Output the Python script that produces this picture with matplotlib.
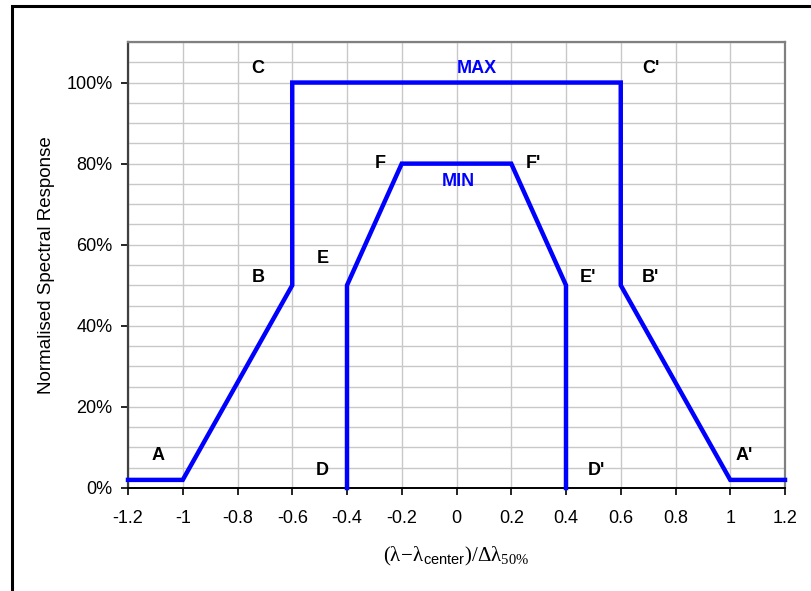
import matplotlib
matplotlib.use("Agg")
import matplotlib.pyplot as plt
import matplotlib.patches as mpatches
import numpy as np

plt.rcParams['font.family'] = ['Liberation Sans', 'DejaVu Sans']
plt.rcParams['mathtext.fontset'] = 'custom'
plt.rcParams['mathtext.rm'] = 'Liberation Serif'
plt.rcParams['mathtext.it'] = 'Liberation Serif:italic'
plt.rcParams['mathtext.sf'] = 'Liberation Sans'

# outer mask (MAX) and inner mask (MIN)
max_x = [-1.2, -1.0, -0.6, -0.6, 0.6, 0.6, 1.0, 1.2]
max_y = [0.02, 0.02, 0.50, 1.00, 1.00, 0.50, 0.02, 0.02]
min_x = [-0.4, -0.4, -0.2, 0.2, 0.4, 0.4]
min_y = [0.00, 0.50, 0.80, 0.80, 0.50, 0.00]

# point labels
pt_labels = ['A', 'B', 'C', 'D', 'E', 'F', "F'", "E'", "B'", "C'", "D'", "A'"]
pt_x = [-1.09, -0.725, -0.725, -0.49, -0.49, -0.28, 0.28, 0.48, 0.71, 0.71, 0.51, 1.05]
pt_y = [0.08, 0.52, 1.035, 0.043, 0.565, 0.80, 0.80, 0.52, 0.52, 1.035, 0.043, 0.08]

x_ticks = [-1.2, -1.0, -0.8, -0.6, -0.4, -0.2, 0.0, 0.2, 0.4, 0.6, 0.8, 1.0, 1.2]
x_ticklabels = ['-1.2', '-1', '-0.8', '-0.6', '-0.4', '-0.2', '0', '0.2', '0.4', '0.6', '0.8', '1', '1.2']
y_ticks = [0.0, 0.2, 0.4, 0.6, 0.8, 1.0]
y_ticklabels = ['0%', '20%', '40%', '60%', '80%', '100%']

W, H = 812, 591
fig = plt.figure(figsize=(W / 100, H / 100), dpi=100)
ax = fig.add_axes([128 / W, 1 - 488 / H, (785 - 128) / W, (488 - 42) / H])

# black frame round the figure (runs off the right / bottom edges)
fig.patches.append(mpatches.Rectangle((12.5 / W, -0.1), 1.2, 1 - 5.5 / H + 0.1,
                                      transform=fig.transFigure, fill=False,
                                      edgecolor='black', linewidth=2.2))

# grid
for xv in x_ticks:
    ax.axvline(xv, color='#c8c8c8', linewidth=1.0, zorder=1)
for yv in np.arange(0.05, 1.11, 0.05):
    ax.axhline(yv, color='#c8c8c8', linewidth=1.0, zorder=1)

ax.plot(max_x, max_y, color='#0000ff', linewidth=3.2, solid_joinstyle='miter', zorder=3, clip_on=False)
ax.plot(min_x, min_y, color='#0000ff', linewidth=3.2, solid_joinstyle='miter', zorder=3, clip_on=False)

for lab, xx, yy in zip(pt_labels, pt_x, pt_y):
    ax.text(xx, yy, lab, fontsize=13, fontweight='bold', ha='center', va='center', color='black')
ax.text(0.075, 1.035, 'MAX', fontsize=13, fontweight='bold', ha='center', va='center', color='#0000ff')
ax.text(0.005, 0.755, 'MIN', fontsize=13, fontweight='bold', ha='center', va='center', color='#0000ff')

ax.set_xlim(-1.2, 1.2)
ax.set_ylim(0, 1.1)
ax.set_xticks(x_ticks)
ax.set_xticklabels(x_ticklabels, fontsize=13)
ax.set_yticks(y_ticks)
ax.set_yticklabels(y_ticklabels, fontsize=13)
ax.tick_params(direction='out', length=5, width=1.2)
ax.tick_params(axis='x', pad=11)
ax.tick_params(axis='y', pad=6)

for side in ['top', 'right']:
    ax.spines[side].set_color('#808080')
    ax.spines[side].set_linewidth(1.6)
ax.spines['left'].set_color('#404040')
ax.spines['left'].set_linewidth(1.6)
ax.spines['bottom'].set_color('black')
ax.spines['bottom'].set_linewidth(1.4)

ax.set_ylabel('Normalised Spectral Response', fontsize=13.5, labelpad=8)
ax.set_xlabel(r'$\mathrm{(\lambda\!-\!\lambda}_{\mathsf{center}}\mathrm{)/\Delta\lambda}_{\mathrm{50\%}}$',
              fontsize=15, labelpad=13)

fig.savefig('out.png', dpi=100)
